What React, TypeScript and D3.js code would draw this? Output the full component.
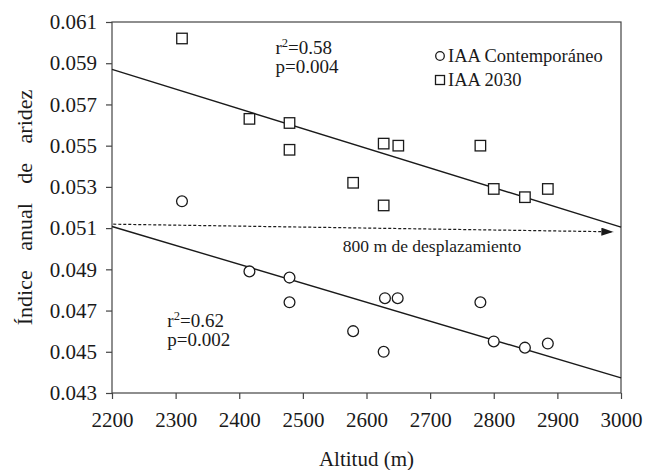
import React, { useEffect, useRef } from 'react';
import * as d3 from 'd3';

// altitude (m) of each site
const altitudes2030 = [2310, 2416, 2479, 2479, 2579, 2627, 2627, 2650, 2779, 2800, 2849, 2885];
const iaa2030 = [0.0602, 0.0563, 0.0561, 0.0548, 0.0532, 0.0521, 0.0551, 0.0550, 0.0550, 0.0529, 0.0525, 0.0529];

const altitudesCont = [2310, 2416, 2479, 2479, 2579, 2627, 2629, 2649, 2779, 2800, 2849, 2885];
const iaaCont = [0.0523, 0.0489, 0.0486, 0.0474, 0.0460, 0.0450, 0.0476, 0.0476, 0.0474, 0.0455, 0.0452, 0.0454];

// regression line end points [altitud, IAA]
const fit2030: [number, number][] = [[2200, 0.0587], [3000, 0.05105]];
const fitCont: [number, number][] = [[2200, 0.05108], [3000, 0.04373]];

// horizontal shift arrow
const shiftArrow: [number, number][] = [[2202, 0.05119], [2988, 0.05082]];

const xTicks = [2200, 2300, 2400, 2500, 2600, 2700, 2800, 2900, 3000];
const yTicks = [0.043, 0.045, 0.047, 0.049, 0.051, 0.053, 0.055, 0.057, 0.059, 0.061];

const legendLabels = ['IAA Contemporáneo', 'IAA 2030'];
const stats2030 = { r2: '0.58', p: '0.004', at: [2457, 0.05945] as [number, number] };
const statsCont = { r2: '0.62', p: '0.002', at: [2287, 0.04618] as [number, number] };
const shiftLabel = { text: '800 m de desplazamiento', at: [2703, 0.04985] as [number, number] };

const FONT = 'Liberation Serif, serif';
const INK = '#1a1a1a';

const App: React.FC = () => {
  const ref = useRef<SVGSVGElement>(null);

  useEffect(() => {
    if (!ref.current) return;
    const svg = d3.select(ref.current);
    svg.selectAll('*').remove();

    const margin = { top: 22, right: 26, bottom: 77, left: 112 };
    const width = 647, height = 470;

    const x = d3.scaleLinear().domain([2200, 3000]).range([margin.left, width - margin.right]);
    const y = d3.scaleLinear().domain([0.043, 0.061]).range([height - margin.bottom, margin.top]);

    const defs = svg.append('defs');
    defs.append('marker')
      .attr('id', 'arrowhead')
      .attr('viewBox', '0 0 12 8')
      .attr('refX', 12)
      .attr('refY', 4)
      .attr('markerWidth', 12)
      .attr('markerHeight', 8)
      .attr('markerUnits', 'userSpaceOnUse')
      .attr('orient', 'auto')
      .append('path')
      .attr('d', 'M0,0 L12,4 L0,8 Z')
      .attr('fill', INK);

    // frame
    svg.append('rect')
      .attr('x', x(2200))
      .attr('y', y(0.061))
      .attr('width', x(3000) - x(2200))
      .attr('height', y(0.043) - y(0.061))
      .attr('fill', 'none')
      .attr('stroke', '#444')
      .attr('stroke-width', 1.2);

    // x axis
    const xAxis = svg.append('g')
      .attr('transform', `translate(0,${y(0.043)})`)
      .call(d3.axisBottom(x).tickValues(xTicks).tickSize(6).tickSizeOuter(0).tickPadding(13).tickFormat(d => String(d)));
    xAxis.select('.domain').remove();
    xAxis.selectAll('line').attr('stroke', '#444').attr('stroke-width', 1.2);
    xAxis.selectAll('text').attr('font-family', FONT).attr('font-size', 21).attr('fill', INK);

    // y axis
    const yAxis = svg.append('g')
      .attr('transform', `translate(${x(2200)},0)`)
      .call(d3.axisLeft(y).tickValues(yTicks).tickSize(6).tickSizeOuter(0).tickPadding(9).tickFormat(d3.format('.3f')));
    yAxis.select('.domain').remove();
    yAxis.selectAll('line').attr('stroke', '#444').attr('stroke-width', 1.2);
    yAxis.selectAll('text').attr('font-family', FONT).attr('font-size', 21).attr('fill', INK);

    // axis titles
    svg.append('text')
      .attr('x', (x(2200) + x(3000)) / 2)
      .attr('y', 466)
      .attr('text-anchor', 'middle')
      .attr('font-family', FONT)
      .attr('font-size', 21)
      .attr('fill', INK)
      .text('Altitud (m)');

    svg.append('text')
      .attr('transform', `translate(32,${(y(0.043) + y(0.061)) / 2}) rotate(-90)`)
      .attr('text-anchor', 'middle')
      .attr('font-family', FONT)
      .attr('font-size', 22)
      .attr('word-spacing', 14)
      .attr('fill', INK)
      .text('Índice anual de aridez');

    // regression lines
    const line = d3.line<[number, number]>().x(d => x(d[0])).y(d => y(d[1]));
    [fit2030, fitCont].forEach(fit => {
      svg.append('path')
        .attr('d', line(fit))
        .attr('fill', 'none')
        .attr('stroke', INK)
        .attr('stroke-width', 1.4);
    });

    // shift arrow
    svg.append('path')
      .attr('d', line(shiftArrow))
      .attr('fill', 'none')
      .attr('stroke', INK)
      .attr('stroke-width', 1.2)
      .attr('stroke-dasharray', '3,2')
      .attr('marker-end', 'url(#arrowhead)');

    svg.append('text')
      .attr('x', x(shiftLabel.at[0]))
      .attr('y', y(shiftLabel.at[1]))
      .attr('text-anchor', 'middle')
      .attr('font-family', FONT)
      .attr('font-size', 17.5)
      .attr('fill', INK)
      .text(shiftLabel.text);

    // points: squares (2030)
    const side = 10.5;
    svg.append('g')
      .selectAll('rect')
      .data(altitudes2030.map((a, i) => [a, iaa2030[i]] as [number, number]))
      .join('rect')
      .attr('x', d => x(d[0]) - side / 2)
      .attr('y', d => y(d[1]) - side / 2)
      .attr('width', side)
      .attr('height', side)
      .attr('fill', 'white')
      .attr('stroke', INK)
      .attr('stroke-width', 1.3);

    // points: circles (contemporary)
    svg.append('g')
      .selectAll('circle')
      .data(altitudesCont.map((a, i) => [a, iaaCont[i]] as [number, number]))
      .join('circle')
      .attr('cx', d => x(d[0]))
      .attr('cy', d => y(d[1]))
      .attr('r', 5.4)
      .attr('fill', 'white')
      .attr('stroke', INK)
      .attr('stroke-width', 1.3);

    // r2 / p annotations
    [stats2030, statsCont].forEach(s => {
      const tx = x(s.at[0]);
      const ty = y(s.at[1]);
      const t = svg.append('text')
        .attr('x', tx)
        .attr('y', ty)
        .attr('font-family', FONT)
        .attr('font-size', 19)
        .attr('fill', INK);
      t.append('tspan').text('r');
      t.append('tspan').attr('font-size', 12.5).attr('dy', -7).text('2');
      t.append('tspan').attr('dy', 7).text(`=${s.r2}`);
      svg.append('text')
        .attr('x', tx)
        .attr('y', ty + 19)
        .attr('font-family', FONT)
        .attr('font-size', 19)
        .attr('fill', INK)
        .text(`p=${s.p}`);
    });

    // legend
    const legend = svg.append('g').attr('transform', `translate(440,56)`);
    legendLabels.forEach((label, i) => {
      const row = legend.append('g').attr('transform', `translate(0,${i * 24})`);
      if (i === 0) {
        row.append('circle').attr('r', 4.3).attr('fill', 'white').attr('stroke', INK).attr('stroke-width', 1.3);
      } else {
        row.append('rect').attr('x', -4.5).attr('y', -4.5).attr('width', 9).attr('height', 9)
          .attr('fill', 'white').attr('stroke', INK).attr('stroke-width', 1.3);
      }
      row.append('text')
        .attr('x', 8)
        .attr('y', 6)
        .attr('font-family', FONT)
        .attr('font-size', 18.5)
        .attr('fill', INK)
        .text(label);
    });
  }, []);

  return (
    <div style={{ position: 'absolute', left: 0, top: 0 }}>
      <svg ref={ref} width={647} height={470} style={{ display: 'block', background: 'white' }} />
    </div>
  );
};

export default App;
